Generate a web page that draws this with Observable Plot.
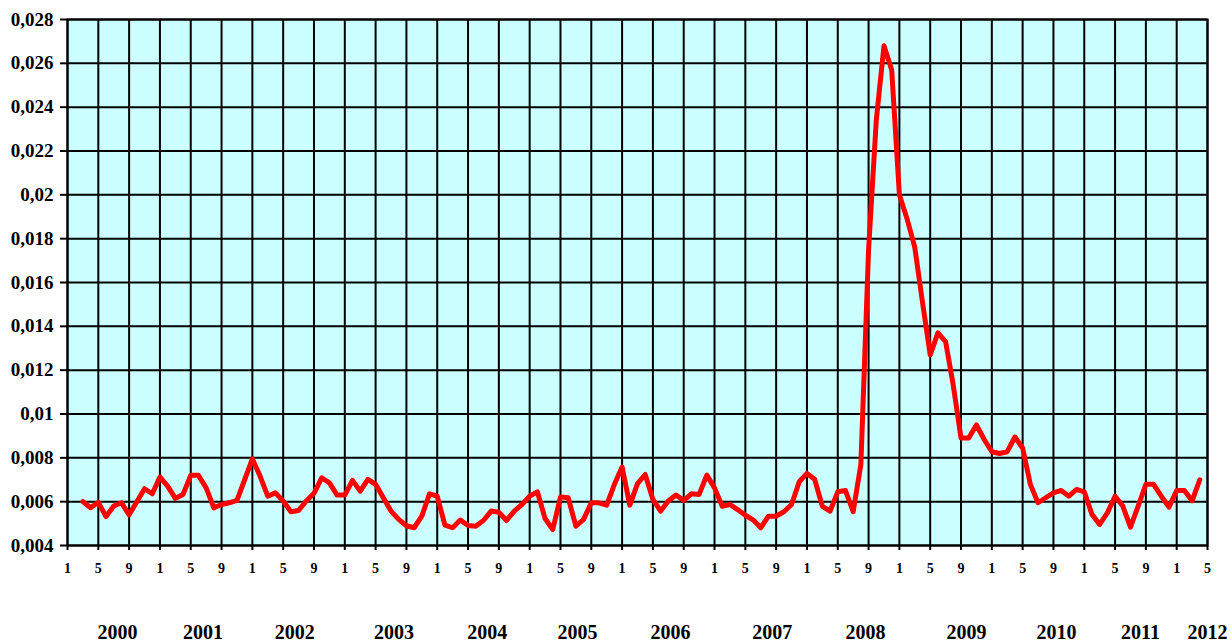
<!DOCTYPE html>
<html>
<head>
<meta charset="utf-8">
<script src="https://cdn.jsdelivr.net/npm/d3@7"></script>
<script src="https://cdn.jsdelivr.net/npm/@observablehq/plot@0.6"></script>
<style>
  body { margin: 0; background: #ffffff; }
  #chart svg { display: block; }
</style>
</head>
<body>
<div id="chart"></div>
<script>
// Monthly series, March 2000 (month index 2, index 0 = January 2000) to April 2012
const firstMonthIndex = 2;
const values = [
  0.0060, 0.00572, 0.00597, 0.00532, 0.0058, 0.00595, 0.0054, 0.0060, 0.00659, 0.00636,
  0.00712, 0.00671, 0.00615, 0.00633, 0.0072, 0.0072, 0.00663, 0.00572, 0.00587, 0.00595,
  0.00606, 0.0070, 0.00795, 0.00717, 0.00625, 0.0064, 0.00603, 0.00554, 0.0056, 0.00603,
  0.00638, 0.00709, 0.00686, 0.0063, 0.0063, 0.00697, 0.00648, 0.00702, 0.00679, 0.00618,
  0.00557, 0.00519, 0.0049, 0.00481, 0.00534, 0.00636, 0.00625, 0.00493, 0.00481, 0.00516,
  0.00491, 0.00488, 0.00514, 0.00557, 0.00552, 0.00514, 0.00557, 0.00587, 0.00625, 0.00645,
  0.00523, 0.00473, 0.00621, 0.00618, 0.00488, 0.00519, 0.00595, 0.00595, 0.00584, 0.00679,
  0.00758, 0.00584, 0.00682, 0.00724, 0.0061, 0.00557, 0.00603, 0.0063, 0.00606, 0.00636,
  0.00633, 0.00721, 0.00663, 0.00579, 0.00587, 0.00564, 0.00538, 0.00517, 0.00481, 0.00534,
  0.00534, 0.00554, 0.00587, 0.00691, 0.00729, 0.00702, 0.00579, 0.00557, 0.00645, 0.00651,
  0.00554, 0.0077, 0.0175, 0.0234, 0.0268, 0.0257, 0.0200, 0.0189, 0.0176, 0.0151,
  0.0127, 0.0137, 0.0133, 0.0113, 0.0089, 0.0089, 0.0095, 0.00885, 0.00828, 0.0082,
  0.00828, 0.00895, 0.00845, 0.00679, 0.00595, 0.00618, 0.0064, 0.00651, 0.00625, 0.00656,
  0.00645, 0.00542, 0.00496, 0.00549, 0.00625, 0.0058, 0.00484, 0.0058, 0.00679, 0.00679,
  0.00625, 0.00575, 0.00651, 0.00651, 0.00604, 0.0070
];

// Axis ticks
const yTicks = [0.004, 0.006, 0.008, 0.010, 0.012, 0.014, 0.016, 0.018, 0.020, 0.022, 0.024, 0.026, 0.028];
const monthTickLabels = ["1", "5", "9"];            // label for months Jan, May, Sep
const xTicks = d3.range(0, 149, 4);                 // month indices Jan 2000 .. May 2012

// Year labels and the month index (x scale units) under which each one sits
const years = ["2000", "2001", "2002", "2003", "2004", "2005", "2006", "2007", "2008", "2009", "2010", "2011", "2012"];
const yearAt = [6.5, 17.6, 29.5, 42.4, 54.5, 66.2, 78.3, 91.5, 103.6, 116.7, 128.4, 139.3, 148.0];

const data = values.map((v, k) => ({m: firstMonthIndex + k, v}));
const yearData = years.map((label, k) => ({label, m: yearAt[k]}));

const fmtY = v => String(+v.toFixed(3)).replace(".", ",");

const chart = Plot.plot({
  width: 1231,
  height: 641,
  marginLeft: 67,
  marginRight: 24,
  marginTop: 19,
  marginBottom: 96,
  style: {
    fontFamily: "'Liberation Serif', 'Times New Roman', serif",
    fontWeight: "bold",
    background: "#ffffff",
    color: "#000",
    overflow: "visible"
  },
  x: {domain: [0, 148], axis: null},
  y: {domain: [0.004, 0.028], axis: null},
  marks: [
    Plot.frame({fill: "#CCFFFF", stroke: "none"}),
    Plot.gridX(xTicks, {stroke: "#000", strokeOpacity: 1, strokeWidth: 2}),
    Plot.gridY(yTicks, {stroke: "#000", strokeOpacity: 1, strokeWidth: 2}),
    Plot.axisY(yTicks, {
      anchor: "left", label: null, tickFormat: fmtY, tickSize: 7, tickPadding: 7,
      fontSize: 19, fontWeight: "bold", color: "#000", strokeWidth: 2
    }),
    Plot.axisX(xTicks, {
      anchor: "bottom", label: null, tickFormat: m => monthTickLabels[(m % 12) / 4],
      tickSize: 5, tickPadding: 13, fontSize: 14, fontWeight: "bold", color: "#000", strokeWidth: 2
    }),
    Plot.line(data, {x: "m", y: "v", stroke: "#FF0000", strokeWidth: 5, strokeLinejoin: "round"}),
    Plot.frame({stroke: "#000", strokeWidth: 2}),
    Plot.text(yearData, {
      x: "m", text: "label", frameAnchor: "bottom", dy: 87,
      fontSize: 20, fontWeight: "bold", fill: "#000", lineAnchor: "middle"
    })
  ]
});

document.getElementById("chart").appendChild(chart);
</script>
</body>
</html>
